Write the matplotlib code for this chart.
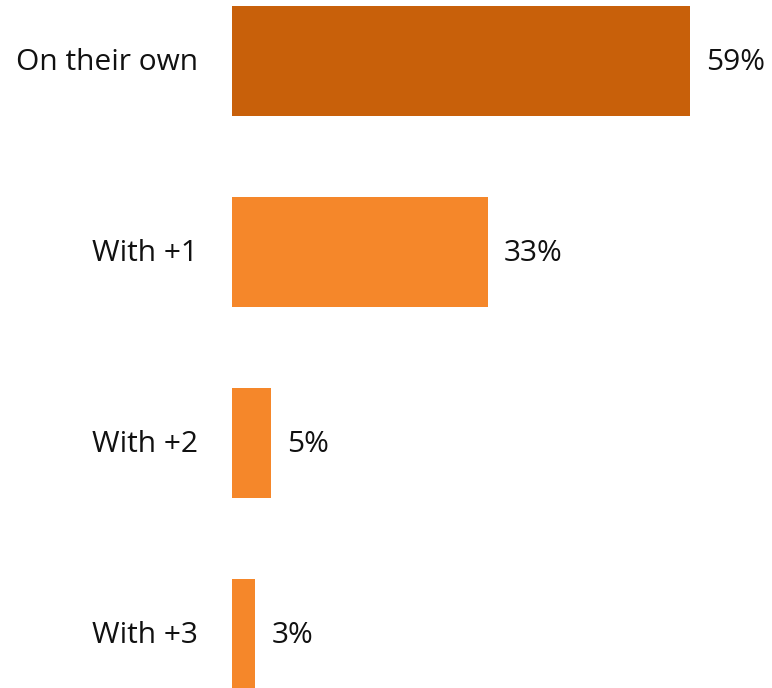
import matplotlib
matplotlib.use("Agg")
import matplotlib.pyplot as plt

categories = ["On their own", "With +1", "With +2", "With +3"]
values = [59, 33, 5, 3]
colors = ["#C8600A", "#F5872A", "#F5872A", "#F5872A"]

plt.rcParams['font.family'] = ['Open Sans', 'DejaVu Sans']

fig = plt.figure(figsize=(7.72, 6.88), dpi=100)
ax = fig.add_axes([232/772, 0, 540/772, 1])
y = list(range(len(categories)))
ax.barh(y, values, height=0.576, color=colors, align='center')
ax.set_xlim(0, 540/458*59)
ax.set_ylim(3.285, -0.319)
ax.axis('off')
for yi, v, c in zip(y, values, categories):
    ax.annotate(f"{v}%", (v, yi), xytext=(16, -2), textcoords='offset pixels',
                va='center', ha='left', fontsize=21.5, color='#111111')
    ax.annotate(c, (0, yi), xytext=(-34, -2), textcoords='offset pixels',
                va='center', ha='right', fontsize=21.5, color='#111111')
fig.savefig("out.png", dpi=100)
